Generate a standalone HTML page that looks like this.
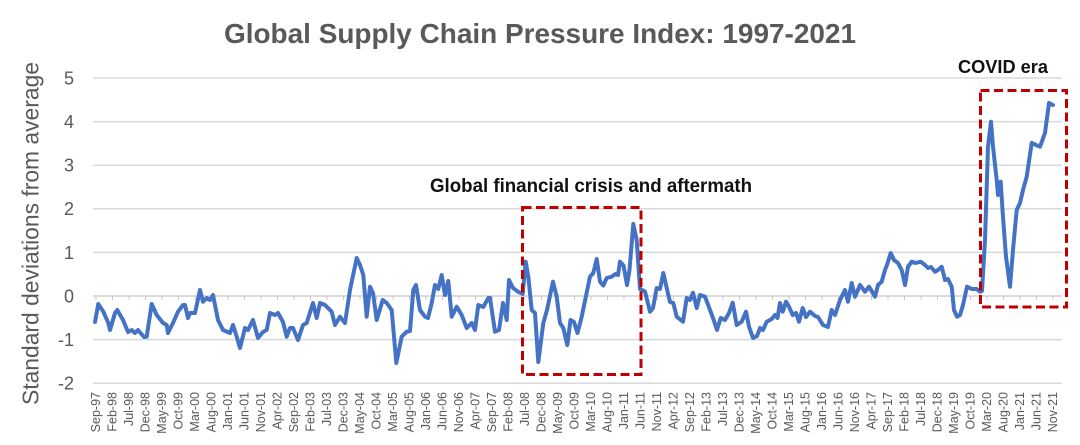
<!DOCTYPE html>
<html>
<head>
<meta charset="utf-8">
<style>
html,body{margin:0;padding:0;background:#fff;}
svg{display:block;}
text{font-family:"Liberation Sans",sans-serif;}
</style>
</head>
<body>
<svg width="1080" height="445" viewBox="0 0 1080 445" xmlns="http://www.w3.org/2000/svg">
<rect width="1080" height="445" fill="#fff"/>
<!-- Title -->
<text x="540" y="43" text-anchor="middle" font-size="28" font-weight="bold" fill="#595959" textLength="632" lengthAdjust="spacingAndGlyphs">Global Supply Chain Pressure Index: 1997-2021</text>

<!-- gridlines -->
<g stroke="#d9d9d9" stroke-width="1.5">
<line x1="93" y1="78" x2="1062" y2="78"/>
<line x1="93" y1="121.6" x2="1062" y2="121.6"/>
<line x1="93" y1="165.2" x2="1062" y2="165.2"/>
<line x1="93" y1="208.8" x2="1062" y2="208.8"/>
<line x1="93" y1="252.4" x2="1062" y2="252.4"/>
<line x1="93" y1="339.6" x2="1062" y2="339.6"/>
<line x1="93" y1="383.2" x2="1062" y2="383.2"/>
</g>
<line x1="93" y1="296" x2="1062" y2="296" stroke="#d0d0d0" stroke-width="1.5"/>

<!-- ticks -->
<g stroke="#c8c8c8" stroke-width="1">
<line x1="96" y1="296" x2="96" y2="300"/><line x1="112.5" y1="296" x2="112.5" y2="300"/><line x1="129" y1="296" x2="129" y2="300"/><line x1="145.5" y1="296" x2="145.5" y2="300"/><line x1="162" y1="296" x2="162" y2="300"/><line x1="178.5" y1="296" x2="178.5" y2="300"/><line x1="195" y1="296" x2="195" y2="300"/><line x1="211.5" y1="296" x2="211.5" y2="300"/><line x1="228" y1="296" x2="228" y2="300"/><line x1="244.5" y1="296" x2="244.5" y2="300"/><line x1="261" y1="296" x2="261" y2="300"/><line x1="277.5" y1="296" x2="277.5" y2="300"/><line x1="294" y1="296" x2="294" y2="300"/><line x1="310.5" y1="296" x2="310.5" y2="300"/><line x1="327" y1="296" x2="327" y2="300"/><line x1="343.5" y1="296" x2="343.5" y2="300"/><line x1="360" y1="296" x2="360" y2="300"/><line x1="376.5" y1="296" x2="376.5" y2="300"/><line x1="393" y1="296" x2="393" y2="300"/><line x1="409.5" y1="296" x2="409.5" y2="300"/><line x1="426" y1="296" x2="426" y2="300"/><line x1="442.5" y1="296" x2="442.5" y2="300"/><line x1="459" y1="296" x2="459" y2="300"/><line x1="475.5" y1="296" x2="475.5" y2="300"/><line x1="492" y1="296" x2="492" y2="300"/><line x1="508.5" y1="296" x2="508.5" y2="300"/><line x1="525" y1="296" x2="525" y2="300"/><line x1="541.5" y1="296" x2="541.5" y2="300"/><line x1="558" y1="296" x2="558" y2="300"/><line x1="574.5" y1="296" x2="574.5" y2="300"/><line x1="591" y1="296" x2="591" y2="300"/><line x1="607.5" y1="296" x2="607.5" y2="300"/><line x1="624" y1="296" x2="624" y2="300"/><line x1="640.5" y1="296" x2="640.5" y2="300"/><line x1="657" y1="296" x2="657" y2="300"/><line x1="673.5" y1="296" x2="673.5" y2="300"/><line x1="690" y1="296" x2="690" y2="300"/><line x1="706.5" y1="296" x2="706.5" y2="300"/><line x1="723" y1="296" x2="723" y2="300"/><line x1="739.5" y1="296" x2="739.5" y2="300"/><line x1="756" y1="296" x2="756" y2="300"/><line x1="772.5" y1="296" x2="772.5" y2="300"/><line x1="789" y1="296" x2="789" y2="300"/><line x1="805.5" y1="296" x2="805.5" y2="300"/><line x1="822" y1="296" x2="822" y2="300"/><line x1="838.5" y1="296" x2="838.5" y2="300"/><line x1="855" y1="296" x2="855" y2="300"/><line x1="871.5" y1="296" x2="871.5" y2="300"/><line x1="888" y1="296" x2="888" y2="300"/><line x1="904.5" y1="296" x2="904.5" y2="300"/><line x1="921" y1="296" x2="921" y2="300"/><line x1="937.5" y1="296" x2="937.5" y2="300"/><line x1="954" y1="296" x2="954" y2="300"/><line x1="970.5" y1="296" x2="970.5" y2="300"/><line x1="987" y1="296" x2="987" y2="300"/><line x1="1003.5" y1="296" x2="1003.5" y2="300"/><line x1="1020" y1="296" x2="1020" y2="300"/><line x1="1036.5" y1="296" x2="1036.5" y2="300"/><line x1="1053" y1="296" x2="1053" y2="300"/>
</g>

<!-- y axis labels -->
<g font-size="18" fill="#595959" text-anchor="end">
<text x="74" y="84.5">5</text>
<text x="74" y="128">4</text>
<text x="74" y="171.6">3</text>
<text x="74" y="215.2">2</text>
<text x="74" y="258.8">1</text>
<text x="74" y="302.4">0</text>
<text x="74" y="346">-1</text>
<text x="74" y="389.6">-2</text>
</g>

<!-- y axis title -->
<text transform="translate(38.5,233.5) rotate(-90)" text-anchor="middle" font-size="23" fill="#595959" textLength="343" lengthAdjust="spacingAndGlyphs">Standard deviations from average</text>

<!-- x labels -->
<g font-size="12.5" fill="#595959" text-anchor="end">
<text transform="translate(100,392) rotate(-90)">Sep-97</text>
<text transform="translate(116.5,392) rotate(-90)">Feb-98</text>
<text transform="translate(133,392) rotate(-90)">Jul-98</text>
<text transform="translate(149.5,392) rotate(-90)">Dec-98</text>
<text transform="translate(166,392) rotate(-90)">May-99</text>
<text transform="translate(182.5,392) rotate(-90)">Oct-99</text>
<text transform="translate(199,392) rotate(-90)">Mar-00</text>
<text transform="translate(215.5,392) rotate(-90)">Aug-00</text>
<text transform="translate(232,392) rotate(-90)">Jan-01</text>
<text transform="translate(248.5,392) rotate(-90)">Jun-01</text>
<text transform="translate(265,392) rotate(-90)">Nov-01</text>
<text transform="translate(281.5,392) rotate(-90)">Apr-02</text>
<text transform="translate(298,392) rotate(-90)">Sep-02</text>
<text transform="translate(314.5,392) rotate(-90)">Feb-03</text>
<text transform="translate(331,392) rotate(-90)">Jul-03</text>
<text transform="translate(347.5,392) rotate(-90)">Dec-03</text>
<text transform="translate(364,392) rotate(-90)">May-04</text>
<text transform="translate(380.5,392) rotate(-90)">Oct-04</text>
<text transform="translate(397,392) rotate(-90)">Mar-05</text>
<text transform="translate(413.5,392) rotate(-90)">Aug-05</text>
<text transform="translate(430,392) rotate(-90)">Jan-06</text>
<text transform="translate(446.5,392) rotate(-90)">Jun-06</text>
<text transform="translate(463,392) rotate(-90)">Nov-06</text>
<text transform="translate(479.5,392) rotate(-90)">Apr-07</text>
<text transform="translate(496,392) rotate(-90)">Sep-07</text>
<text transform="translate(512.5,392) rotate(-90)">Feb-08</text>
<text transform="translate(529,392) rotate(-90)">Jul-08</text>
<text transform="translate(545.5,392) rotate(-90)">Dec-08</text>
<text transform="translate(562,392) rotate(-90)">May-09</text>
<text transform="translate(578.5,392) rotate(-90)">Oct-09</text>
<text transform="translate(595,392) rotate(-90)">Mar-10</text>
<text transform="translate(611.5,392) rotate(-90)">Aug-10</text>
<text transform="translate(628,392) rotate(-90)">Jan-11</text>
<text transform="translate(644.5,392) rotate(-90)">Jun-11</text>
<text transform="translate(661,392) rotate(-90)">Nov-11</text>
<text transform="translate(677.5,392) rotate(-90)">Apr-12</text>
<text transform="translate(694,392) rotate(-90)">Sep-12</text>
<text transform="translate(710.5,392) rotate(-90)">Feb-13</text>
<text transform="translate(727,392) rotate(-90)">Jul-13</text>
<text transform="translate(743.5,392) rotate(-90)">Dec-13</text>
<text transform="translate(760,392) rotate(-90)">May-14</text>
<text transform="translate(776.5,392) rotate(-90)">Oct-14</text>
<text transform="translate(793,392) rotate(-90)">Mar-15</text>
<text transform="translate(809.5,392) rotate(-90)">Aug-15</text>
<text transform="translate(826,392) rotate(-90)">Jan-16</text>
<text transform="translate(842.5,392) rotate(-90)">Jun-16</text>
<text transform="translate(859,392) rotate(-90)">Nov-16</text>
<text transform="translate(875.5,392) rotate(-90)">Apr-17</text>
<text transform="translate(892,392) rotate(-90)">Sep-17</text>
<text transform="translate(908.5,392) rotate(-90)">Feb-18</text>
<text transform="translate(925,392) rotate(-90)">Jul-18</text>
<text transform="translate(941.5,392) rotate(-90)">Dec-18</text>
<text transform="translate(958,392) rotate(-90)">May-19</text>
<text transform="translate(974.5,392) rotate(-90)">Oct-19</text>
<text transform="translate(991,392) rotate(-90)">Mar-20</text>
<text transform="translate(1007.5,392) rotate(-90)">Aug-20</text>
<text transform="translate(1024,392) rotate(-90)">Jan-21</text>
<text transform="translate(1040.5,392) rotate(-90)">Jun-21</text>
<text transform="translate(1057,392) rotate(-90)">Nov-21</text>
</g>

<!-- data line -->
<polyline fill="none" stroke="#4472c4" stroke-width="4" stroke-linejoin="round" stroke-linecap="round" points="
95,322 98.3,304 103.3,311.7 108.3,323 110,330 115,313 117.3,310 123,320 128,332 131.7,330 135,333 138,330 144,337 146.7,336.7 151.7,304 156.7,315 163,323 166.7,325 168,333 173,323 178,311.7 183,305 185,305 188,318 190,313 195,313 200,290 203,301.7 206.7,298 210,300 213,295 218,320 223,330 230,333 233,325 236.7,336.7 240,348 245,328 248,330 253,320 258,338 263,332 266.7,330 270,313 275,315 278,313 283,322 286.7,336.7 290,328 293,328 298,340 303,325 306.7,323 313,303 316.7,318 320,303 325,305 331.7,311.7 335,325 340,316.7 345,323 350,290
356.7,258 360,265 363.3,275 366.7,316.7 370,286.7 373,293 376.7,320 382.7,300 386.7,303 391.7,310 396.3,363 401.7,336.7 406.7,331.7 410,331 413.3,290 416,285 420,310 425,316.7 428,318 431.7,303 435,285 438.3,289 441.7,275 445,295 448.3,281 451.7,316.7 456.7,306.7 461.7,315 466.7,328 471.7,323 475,330 478.3,305 483.3,307 488.3,298 490,298 495,331.7 499,330 503,303 506.7,320 509,280 513,288 518,291.7 522.7,294 525.7,261.7 528.3,276.7 531.7,310 535,313 538.3,362 543.3,323 547,310 553,281.7 556.7,296.7 560,323 563.3,328 567.3,345 570.5,320 574,322 577.5,333 581.7,316.7 590,276.7 593.3,273 596.7,259 600,281.7 603.3,285.5 606.7,278 611.7,276.7 615.5,274 618,275 620,261.7 623.5,265.5 627,285 629.5,270 633.3,224 636.7,240 640,289 645,291.5 650,311.7 653,308 656.7,288 660,289 663.3,273 666.7,288 670,302 673.3,303 676.7,316.7 683,321.7 686.7,298 690,300 693,292.7 696.7,308 700,295 705,296.7 710,310 713,318 717,330 720.7,318 725,320 729,313 732.7,302.7 736.7,325 741.7,321.7 746,311.7 749,326.7 753,338 757,336 760,328 763,330 766.7,321.7 771.7,319 775,315 777.5,318 780,303 782.7,311.7 786,301.7 789,306.7 792.7,315 796,313 799,321.7 802.7,308 806,317 810,311.7 815,316 818,317 823,325 828,327 831.7,310 835,315 840,300 845,290 848,301.7 851.7,283 855,296.7 860,285 865,291.7 869,286.7 875,296.7 878,285 881.7,281.7 885,270 887,265 890.7,253 894,260 898,263 901.7,270 905,285 908,266.7 911.7,261.7 916,263 920.7,261.7 925,265 928,268 931,267 935,271.7 938,270 941.7,266.7 945,280 948,279 951.7,286.7 954,310 957,316.7 960,315 963,305 967,286.7 971.7,289 976.7,289 980,291.7 982,291 985,240 988,146.7 991,121.7 993,146.7 996.7,180 998,195 1000.7,181.7 1002.7,213 1006,256.7 1010,286.7 1013,250 1016.7,210 1020,203 1023,190 1026.7,176.7 1031.7,143 1036,145 1040,146.7 1045,133 1049,103 1053,105"/>

<!-- annotation boxes -->
<g fill="none" stroke="#c00000" stroke-width="3" stroke-dasharray="9 4.5">
<rect x="522.5" y="207.5" width="118.5" height="167"/>
<rect x="980.5" y="90.5" width="86" height="216.5"/>
</g>

<!-- annotation text -->
<text x="591" y="192" text-anchor="middle" font-size="19" font-weight="bold" fill="#111" textLength="322" lengthAdjust="spacingAndGlyphs">Global financial crisis and aftermath</text>
<text x="1003" y="73" text-anchor="middle" font-size="18" font-weight="bold" fill="#111" textLength="90" lengthAdjust="spacingAndGlyphs">COVID era</text>
</svg>
</body>
</html>
